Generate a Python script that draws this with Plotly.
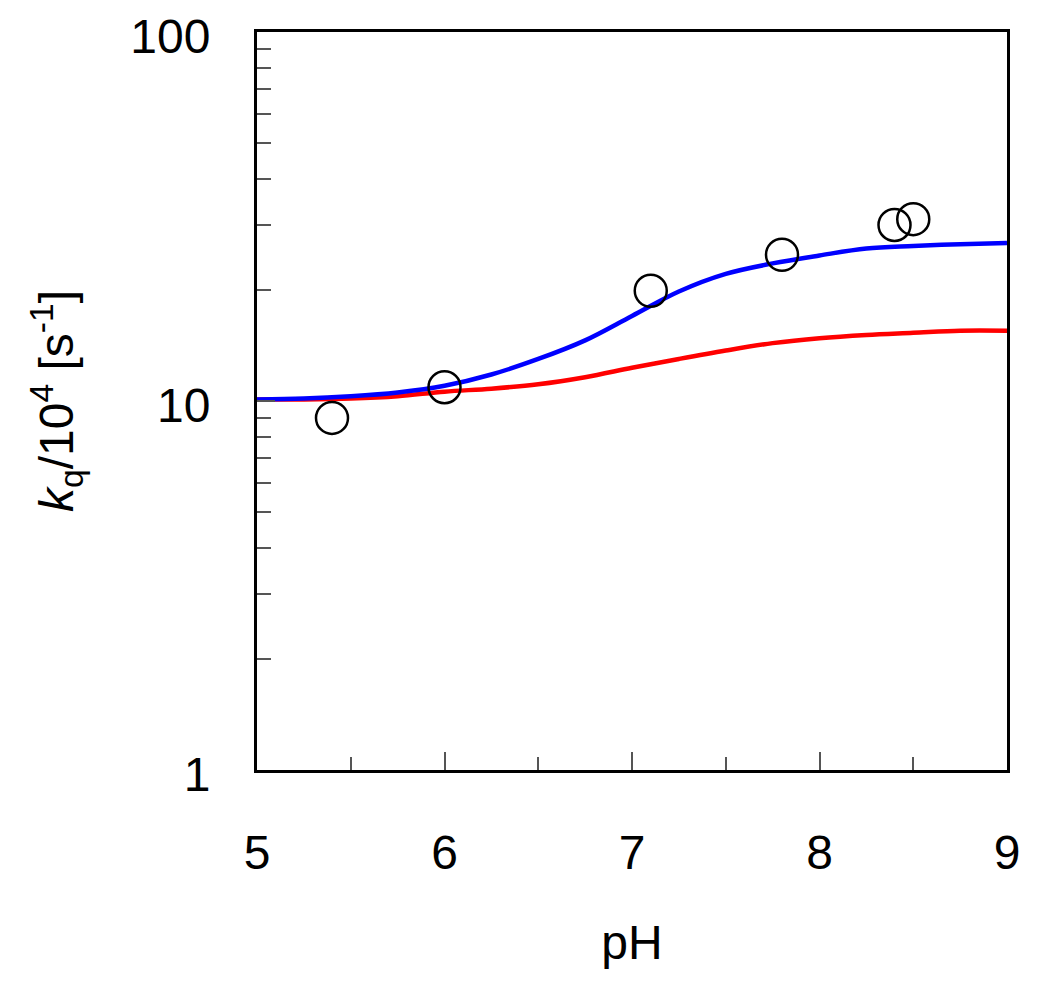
import plotly.graph_objects as go

# Data
ph_points = [5.40, 6.00, 7.10, 7.80, 8.40, 8.50]
kq_points = [9.0, 10.9, 19.9, 24.9, 30.0, 31.1]

ph_curve = [5.0, 5.25, 5.5, 5.75, 6.0, 6.25, 6.5, 6.75, 7.0, 7.25, 7.5, 7.75, 8.0, 8.25, 8.5, 8.75, 9.0]
kq_blue = [10.1, 10.15, 10.3, 10.55, 11.0, 11.8, 13.0, 14.6, 17.0, 19.8, 22.1, 23.6, 24.8, 25.9, 26.3, 26.6, 26.8]
kq_red = [10.1, 10.1, 10.15, 10.3, 10.6, 10.8, 11.1, 11.6, 12.3, 13.0, 13.7, 14.35, 14.8, 15.1, 15.3, 15.5, 15.5]

x_major = [5, 6, 7, 8, 9]
x_minor = [5.5, 6.5, 7.5, 8.5]
y_major = [1, 10, 100]
y_minor = [m * d for d in (1, 10) for m in range(2, 10)]

FONT = "Liberation Sans, Arial, sans-serif"

fig = go.Figure()
fig.add_trace(go.Scatter(x=ph_curve, y=kq_red, mode="lines",
                         line=dict(color="#FF0000", width=4.5, shape="spline"),
                         showlegend=False, hoverinfo="skip"))
fig.add_trace(go.Scatter(x=ph_curve, y=kq_blue, mode="lines",
                         line=dict(color="#0000FF", width=4.5, shape="spline"),
                         showlegend=False, hoverinfo="skip"))
fig.add_trace(go.Scatter(x=ph_points, y=kq_points, mode="markers",
                         marker=dict(symbol="circle-open", size=32, color="black",
                                     line=dict(width=2.5, color="black")),
                         showlegend=False))

fig.update_layout(
    width=1034, height=971,
    margin=dict(l=249, r=35, t=24, b=209),
    paper_bgcolor="white", plot_bgcolor="white",
    font=dict(family=FONT, size=48, color="black"),
    xaxis=dict(
        range=[5, 9], tickmode="array", tickvals=x_major,
        ticktext=[str(v) for v in x_major],
        ticks="inside", ticklen=18, tickwidth=2, tickcolor="#555555",
        minor=dict(tickmode="array", tickvals=x_minor, ticks="inside",
                   ticklen=13, tickwidth=2, tickcolor="#555555"),
        showline=True, linewidth=3, linecolor="black", mirror=True,
        showgrid=False, zeroline=False, automargin=False,
        ticklabelstandoff=38, ticklabeloverflow="allow",
        tickfont=dict(size=48, family=FONT),
        title=dict(text="pH", font=dict(size=48, family=FONT), standoff=48),
    ),
    yaxis=dict(
        type="log", range=[0, 2], tickmode="array", tickvals=y_major,
        ticktext=[str(v) for v in y_major],
        ticks="inside", ticklen=18, tickwidth=2, tickcolor="#555555",
        minor=dict(tickmode="array", tickvals=y_minor, ticks="inside",
                   ticklen=14, tickwidth=2, tickcolor="#555555"),
        showline=True, linewidth=3, linecolor="black", mirror=True,
        showgrid=False, zeroline=False, automargin=False,
        ticklabelstandoff=34, ticklabelshift=4, ticklabeloverflow="allow",
        tickfont=dict(size=48, family=FONT),
        title=dict(text="<i>k</i><sub>q</sub>/10<sup>4</sup> [s<sup>-1</sup>]",
                   font=dict(size=48, family=FONT), standoff=42),
    ),
)

fig.write_html("out.html")
